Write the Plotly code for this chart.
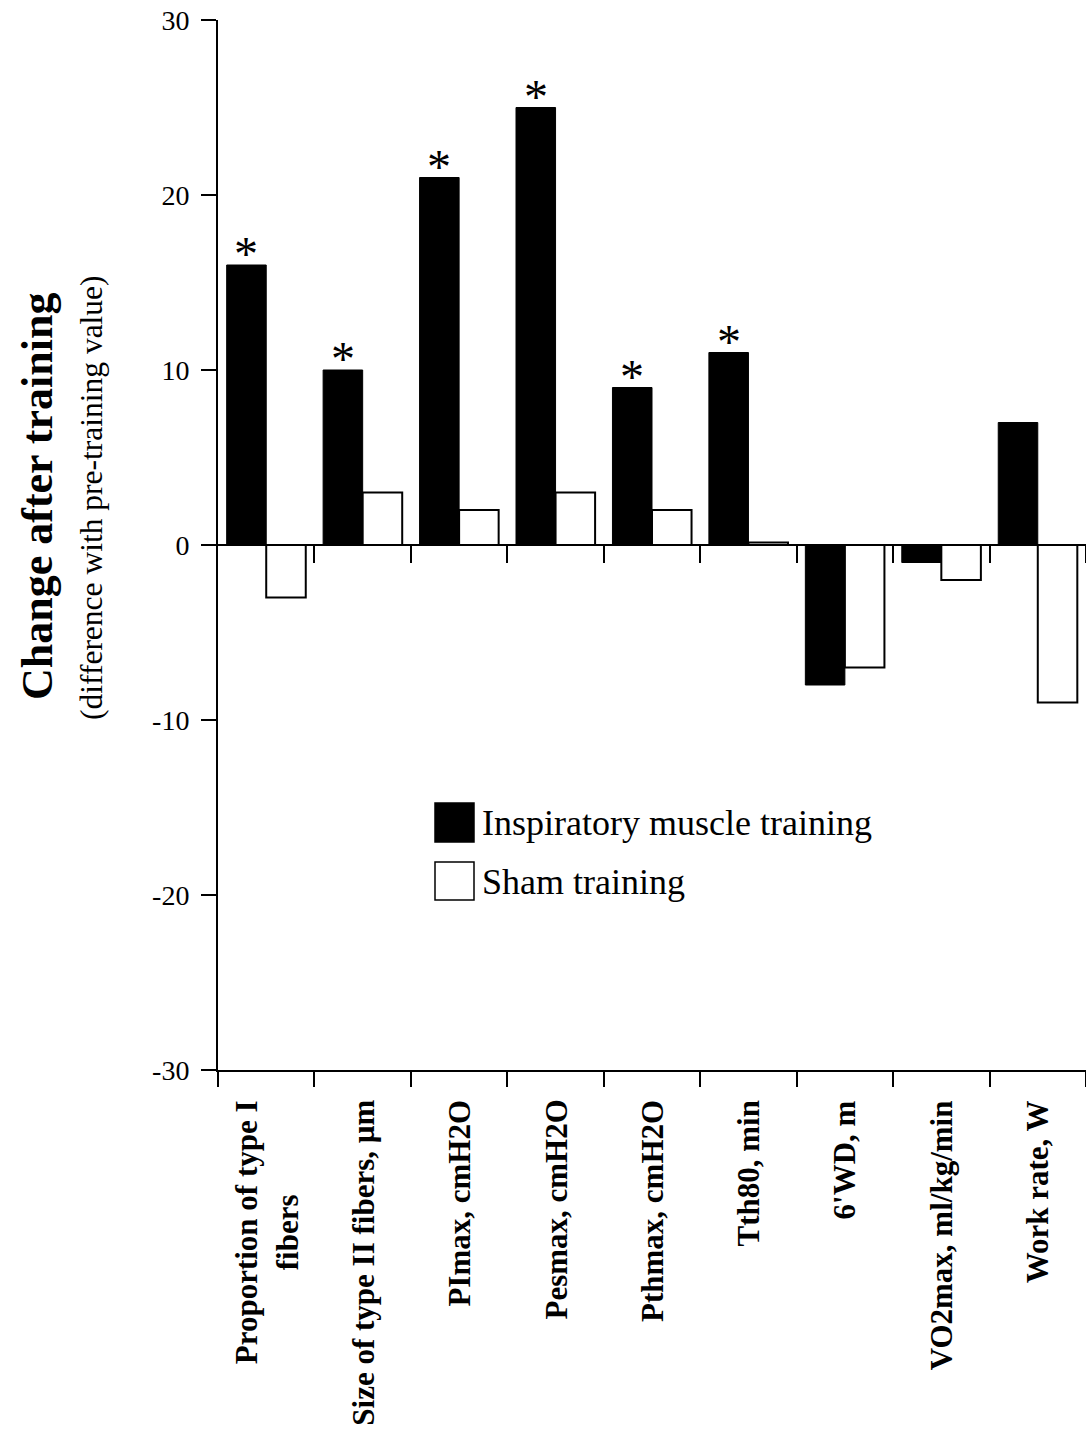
import plotly.graph_objects as go

categories = [
    "Proportion of type I<br>fibers",
    "Size of type II fibers, µm",
    "PImax, cmH2O",
    "Pesmax, cmH2O",
    "Pthmax, cmH2O",
    "Tth80, min",
    "6'WD, m",
    "VO2max, ml/kg/min",
    "Work rate, W",
]
imt_values = [16, 10, 21, 25, 9, 11, -8, -1, 7]
sham_values = [-3, 3, 2, 3, 2, 0.15, -7, -2, -9]
significant = [True, True, True, True, True, True, False, False, False]
series_names = ["Inspiratory muscle training", "Sham training"]
y_ticks = [-30, -20, -10, 0, 10, 20, 30]
y_ticktext = ["-30", "-20", "-10", "0", "10", "20", "30"]

FONT = "Liberation Serif, Times New Roman, serif"

W, H = 1086, 1434
ML, MR, MT, MB = 218, 0, 20, 1434 - 1070
PW = W - ML - MR
PH = H - MT - MB


def px_x(p):
    return (p - ML) / PW


def px_y(p):
    return ((H - MB) - p) / PH


fig = go.Figure()
fig.add_trace(go.Bar(
    x=categories, y=imt_values, name=series_names[0],
    marker=dict(color="black", line=dict(color="black", width=1)),
    showlegend=False,
))
fig.add_trace(go.Bar(
    x=categories, y=sham_values, name=series_names[1],
    marker=dict(color="white", line=dict(color="black", width=2)),
    showlegend=False,
))
# helper trace for the secondary axis that carries ticks along the zero line
fig.add_trace(go.Scatter(
    x=[0], y=[None], xaxis="x2", mode="markers",
    marker=dict(opacity=0), showlegend=False, hoverinfo="skip",
))

n = len(categories)
bargap = 0.18
bar_w_px = (1 - bargap) / 2 * PW / n

annotations = []
# significance asterisks
for cat, v, s in zip(categories, imt_values, significant):
    if s:
        annotations.append(dict(
            x=cat, y=v, xref="x", yref="y", text="*", showarrow=False,
            xshift=-bar_w_px / 2, yanchor="bottom", yshift=-17,
            font=dict(family=FONT, size=48, color="black"),
        ))
# category labels
for cat in categories:
    annotations.append(dict(
        x=cat, y=px_y(1098), xref="x", yref="paper",
        text="<b>" + cat + "</b>", textangle=-90, showarrow=False,
        yanchor="top", xanchor="center", align="center",
        font=dict(family=FONT, size=31, color="black"),
    ))
# y-axis title (two lines)
annotations.append(dict(
    x=px_x(37), y=px_y(497), xref="paper", yref="paper",
    text="<b>Change after training</b>", textangle=-90, showarrow=False,
    xanchor="center", yanchor="middle",
    font=dict(family=FONT, size=44, color="black"),
))
annotations.append(dict(
    x=px_x(91), y=px_y(498), xref="paper", yref="paper",
    text="(difference with pre-training value)", textangle=-90, showarrow=False,
    xanchor="center", yanchor="middle",
    font=dict(family=FONT, size=31.5, color="black"),
))

# custom legend
shapes = [
    dict(type="rect", xref="paper", yref="paper",
         x0=px_x(435), x1=px_x(474), y0=px_y(842), y1=px_y(803),
         fillcolor="black", line=dict(color="black", width=1.5)),
    dict(type="rect", xref="paper", yref="paper",
         x0=px_x(435), x1=px_x(474), y0=px_y(900), y1=px_y(862),
         fillcolor="white", line=dict(color="black", width=1.5)),
]
annotations.append(dict(
    x=px_x(480), y=px_y(823), xref="paper", yref="paper", text=series_names[0],
    showarrow=False, xanchor="left", yanchor="middle",
    font=dict(family=FONT, size=36, color="black"),
))
annotations.append(dict(
    x=px_x(480), y=px_y(882), xref="paper", yref="paper", text=series_names[1],
    showarrow=False, xanchor="left", yanchor="middle",
    font=dict(family=FONT, size=36, color="black"),
))

fig.update_layout(
    width=W, height=H,
    margin=dict(l=ML, r=MR, t=MT, b=MB, pad=0, autoexpand=False),
    paper_bgcolor="white", plot_bgcolor="white",
    barmode="group", bargap=bargap, bargroupgap=0,
    font=dict(family=FONT, color="black"),
    showlegend=False,
    annotations=annotations,
    shapes=shapes,
    xaxis=dict(
        type="category", showline=True, linecolor="black", linewidth=2,
        ticks="outside", tickson="boundaries", ticklen=15, tickwidth=2,
        tickcolor="black", showticklabels=False, showgrid=False, zeroline=False,
    ),
    xaxis2=dict(
        overlaying="x", anchor="free", position=0.5, side="bottom",
        range=[-0.5, n - 0.5], tickmode="array",
        tickvals=[i + 0.5 for i in range(n)],
        ticks="outside", ticklen=17, tickwidth=2, tickcolor="black",
        showticklabels=False, showline=False, showgrid=False, zeroline=False,
    ),
    yaxis=dict(
        range=[-30, 30], tickmode="array", tickvals=y_ticks, ticktext=y_ticktext,
        showline=True, linecolor="black", linewidth=2,
        ticks="outside", ticklen=15, tickwidth=2, tickcolor="black",
        tickfont=dict(family=FONT, size=28, color="black"),
        ticklabelstandoff=6,
        showgrid=False, zeroline=True, zerolinecolor="black", zerolinewidth=2,
    ),
)

fig.write_html(
    "out.html",
    config={"displayModeBar": False},
    post_script="document.body.style.margin='0';document.body.style.overflow='hidden';",
)
